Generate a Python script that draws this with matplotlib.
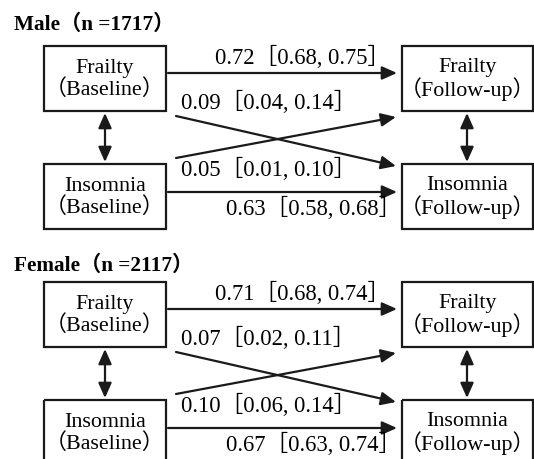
import matplotlib
matplotlib.use('Agg')
import matplotlib.pyplot as plt
from matplotlib.patches import Rectangle

# data
groups = ['Male', 'Female']
n_sizes = [1717, 2117]
# paths: frailty->frailty, frailty->insomnia, insomnia->frailty, insomnia->insomnia
coef_ff = [0.72, 0.71]
ci_ff = [(0.68, 0.75), (0.68, 0.74)]
coef_fi = [0.09, 0.07]
ci_fi = [(0.04, 0.14), (0.02, 0.11)]
coef_if = [0.05, 0.10]
ci_if = [(0.01, 0.10), (0.06, 0.14)]
coef_ii = [0.63, 0.67]
ci_ii = [(0.58, 0.68), (0.63, 0.74)]

left_labels = ['Frailty\n（Baseline）', 'Insomnia\n（Baseline）']
right_labels = ['Frailty\n（Follow-up）', 'Insomnia\n（Follow-up）']

FONT = ['Liberation Serif', 'Noto Sans CJK SC']
FS = 16.3

fig = plt.figure(figsize=(5.34, 4.59), dpi=100)
ax = fig.add_axes([0, 0, 1, 1])
ax.set_xlim(0, 534)
ax.set_ylim(459, 0)
ax.axis('off')

def lab(c, ci):
    return '%.2f［%.2f, %.2f］' % (c, ci[0], ci[1])

def arrow(x0, y0, x1, y1, style='-|>'):
    ax.annotate('', xy=(x1, y1), xytext=(x0, y0),
                arrowprops=dict(arrowstyle=style + ',head_length=0.45,head_width=0.2',
                                mutation_scale=20, lw=1.6, color='#1a1a1a',
                                shrinkA=0, shrinkB=0))

offsets = [0, 236]
title_y = [25, 266]
for k in range(2):
    o = offsets[k]
    ax.text(14, title_y[k], '%s（n =%d）' % (groups[k], n_sizes[k]), family=FONT,
            fontsize=15.3, fontweight='bold', va='center', ha='left')
    # boxes
    for (x, w), labels in [((44, 122), left_labels), ((402, 131), right_labels)]:
        for j, (top, h) in enumerate([(46, 65), (164, 65)]):
            ax.add_patch(Rectangle((x, top + o), w, h, fill=False, lw=1.6, ec='#1a1a1a'))
            ax.text(x + w / 2, top + o + h / 2 + 1, labels[j], family=FONT, fontsize=15.8,
                    ha='center', va='center', linespacing=1.02)
    # horizontal paths
    arrow(168, 73 + o, 397, 73 + o)
    arrow(168, 192 + o, 397, 192 + o)
    # cross paths
    arrow(176, 116 + o, 396, 166 + o)
    arrow(176, 158 + o, 396, 117 + o)
    # correlations
    arrow(105, 113 + o, 105, 162 + o, '<|-|>')
    arrow(467, 113 + o, 467, 162 + o, '<|-|>')
    # labels
    ax.text(215, 57 + o, lab(coef_ff[k], ci_ff[k]), family=FONT, fontsize=FS, va='center')
    ax.text(181, 102 + o, lab(coef_fi[k], ci_fi[k]), family=FONT, fontsize=FS, va='center')
    ax.text(181, 169 + o, lab(coef_if[k], ci_if[k]), family=FONT, fontsize=FS, va='center')
    ax.text(226, 208 + o, lab(coef_ii[k], ci_ii[k]), family=FONT, fontsize=FS, va='center')

fig.savefig('out.png', dpi=100)
